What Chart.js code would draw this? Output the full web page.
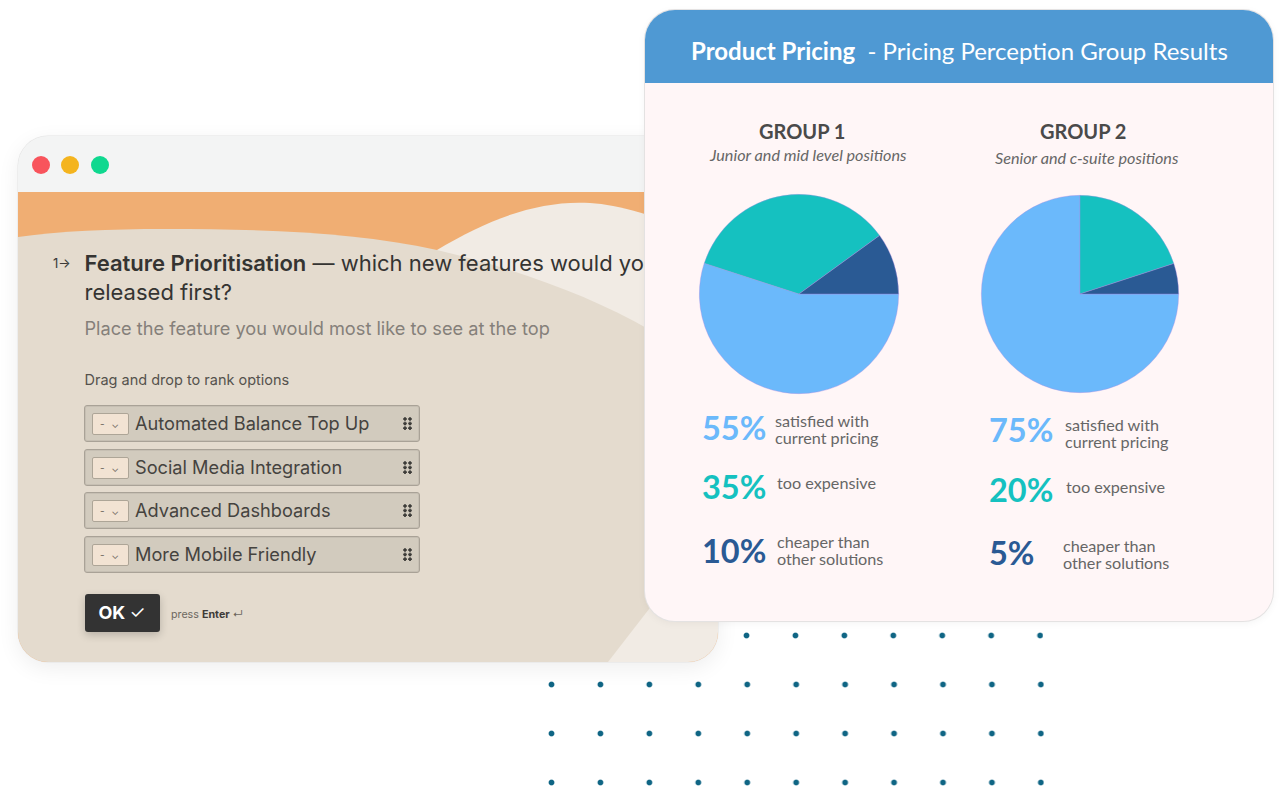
<!DOCTYPE html>
<html>
<head>
<meta charset="utf-8">
<title>Product Pricing</title>
<script src="https://cdn.jsdelivr.net/npm/chart.js@4"></script>
<style>
html, body { margin: 0; padding: 0; background: #fff; }
#page { position: relative; width: 1280px; height: 788px; overflow: hidden; background: #fff; }
.abs { position: absolute; white-space: nowrap; }
/* dot pattern behind the cards */
#dotsTop, #dotsMain { position: absolute; background-image: radial-gradient(circle at 3.5px 3.5px, #0f6584 2.4px, rgba(15,101,132,.25) 3.1px, transparent 3.6px); background-size: 48.95px 49px; }
#dotsTop { left: 743px; top: 632px; width: 300px; height: 8px; }
#dotsMain { left: 547.5px; top: 681px; width: 496px; height: 107px; }
/* left window */
#win { position: absolute; left: 18px; top: 136px; width: 700px; height: 526px; border-radius: 30px; overflow: hidden; background: #f3f4f4; box-shadow: 0 0 0 .5px #e3e3e3, 0 6px 22px rgba(0,0,0,.07); font-family: Inter, sans-serif; color: #3b3a38; }
#win svg { position: absolute; left: 0; top: 0; }
.light { position: absolute; top: 20px; width: 18px; height: 18px; border-radius: 50%; }
.item { position: absolute; left: 66px; width: 334px; height: 35px; background: #d2cbbe; border: 1px solid #a9a297; border-radius: 3px; box-shadow: inset 0 0 0 1px #c6bfb3; font-size: 18.2px; line-height: 35px; color: #45433f; }
.item .sel { position: absolute; left: 7px; top: 7px; width: 35px; height: 20px; background: #f2e3d3; border: 1px solid #ada597; border-radius: 2px; font-size: 10px; line-height: 20px; text-align: center; color: #6d675e; letter-spacing: 2px; }
.item .txt { position: absolute; left: 50px; top: 0; }
.item .grip { position: absolute; right: 7px; top: 11px; width: 9px; height: 13px; background-image: radial-gradient(circle at 2px 2px, #3d3c39 1.5px, transparent 1.9px); background-size: 5px 4.6px; }
#ok { position: absolute; left: 66.5px; top: 458px; width: 75px; height: 38px; background: #333; border-radius: 3px; box-shadow: 0 3px 8px rgba(0,0,0,.2); color: #fff; font-size: 18px; font-weight: 700; line-height: 38px; text-indent: 14px; }
#ok span { font-weight: 400; }
/* pricing card */
#card { position: absolute; left: 645px; top: 10px; width: 628px; height: 611px; border-radius: 30px; overflow: hidden; background: #fff6f7; box-shadow: 0 0 0 1px #e4e2e2, 0 2px 8px rgba(0,0,0,.05); }
#head { position: absolute; left: 0; top: 0; width: 100%; height: 73px; background: #4f99d3; }
#pageText, #pageText * { font-family: Lato, sans-serif; }
.title { font-size: 24px; line-height: 30px; color: #fff; }
.grp { font-size: 20px; font-weight: 700; color: #4a4a4a; line-height: 24px; }
.sub { font-size: 16.2px; font-style: italic; color: #666; line-height: 18px; }
.pct { font-size: 32.5px; font-weight: 700; line-height: 40px; }
.lab { font-size: 16.2px; line-height: 17px; color: #666; white-space: pre; }
canvas.pie { position: absolute; }
</style>
</head>
<body>
<div id="page">
  <div id="dotsTop"></div>
  <div id="dotsMain"></div>

  <div id="win">
    <svg width="700" height="526" viewBox="18 136 700 526">
      <rect x="18" y="192" width="700" height="470" fill="#f0ae73"/>
      <path d="M437 250 C490 218 540 200 590 203 C620 205 650 214 718 240 L718 662 L437 662 Z" fill="#f1ebe4"/>
      <path d="M18 237 C60 231 110 229 165 229 C270 229 360 233 437 250 C510 267 590 295 650 330 L718 380 L718 520 L608 662 L18 662 Z" fill="#e4dbce"/>
    </svg>
    <div class="light" style="left:14px;background:#f8545c"></div>
    <div class="light" style="left:43px;background:#f4b41e"></div>
    <div class="light" style="left:73px;background:#0fd88f"></div>
    <div class="abs" style="left:35px;top:118px;font-size:13px;line-height:18px">1&#8594;</div>
    <div class="abs" style="left:66.5px;top:112px;font-size:22px;line-height:30px;color:#353432"><b style="font-weight:600">Feature Prioritisation</b> &#8212; which new features would you</div>
    <div class="abs" style="left:66.5px;top:141px;font-size:22px;line-height:30px;color:#353432">released first?</div>
    <div class="abs" style="left:66.5px;top:181px;font-size:18.2px;line-height:22px;color:#85807a">Place the feature you would most like to see at the top</div>
    <div class="abs" style="left:66.5px;top:234px;font-size:14.5px;line-height:20px;color:#55524d">Drag and drop to rank options</div>
    <div id="items"></div>
    <div id="ok">OK <span>&#10003;</span></div>
    <div class="abs" style="left:153px;top:470px;font-size:10.7px;line-height:18px;color:#6c675f">press <b style="color:#3e3c39">Enter</b> &#8629;</div>
  </div>

  <div id="card"><div id="head"></div></div>
  <canvas class="pie" id="pie1" width="202" height="202" style="left:698px;top:193px"></canvas>
  <canvas class="pie" id="pie2" width="200" height="200" style="left:979.5px;top:194px"></canvas>
  <div id="pageText"></div>
</div>

<script>
// pie data
const categories = ['satisfied with\ncurrent pricing', 'too expensive', 'cheaper than\nother solutions'];
const group1Values = [55, 35, 10];
const group2Values = [75, 20, 5];
const sliceColors = ['#6bb9fb', '#15c1c0', '#2a5a94'];
const rankOptions = ['Automated Balance Top Up', 'Social Media Integration', 'Advanced Dashboards', 'More Mobile Friendly'];

function addText(cls, left, top, html, color) {
    const el = document.createElement('div');
    el.className = 'abs ' + cls;
    el.style.left = left + 'px';
    el.style.top = top + 'px';
    if (color) el.style.color = color;
    el.innerHTML = html;
    document.getElementById('pageText').appendChild(el);
}

// rank list in the left window
const itemTops = [269, 313, 356, 400];
rankOptions.forEach((name, i) => {
    const el = document.createElement('div');
    el.className = 'item';
    el.style.top = itemTops[i] + 'px';
    el.innerHTML = '<div class="sel">- &#8964;</div><div class="txt">' + name + '</div><div class="grip"></div>';
    document.getElementById('items').appendChild(el);
});

// card headings
addText('title', 691, 36, '<b>Product Pricing</b>&nbsp; - Pricing Perception Group Results');
addText('grp', 759, 119, 'GROUP 1');
addText('sub', 710, 146, 'Junior and mid level positions');
addText('grp', 1040, 119, 'GROUP 2');
addText('sub', 995, 149, 'Senior and c-suite positions');

// left and right key under each pie
const pctTops1 = [408, 467, 531];
const labTops1 = [412, 474, 533];
const labLefts1 = [775, 777, 777];
const pctTops2 = [410, 470, 533];
const labTops2 = [416, 478, 537];
const labLefts2 = [1065, 1066, 1063];
categories.forEach((cat, i) => {
    addText('pct', 702, pctTops1[i], group1Values[i] + '%', sliceColors[i]);
    addText('lab', labLefts1[i], labTops1[i], cat);
    addText('pct', 989, pctTops2[i], group2Values[i] + '%', sliceColors[i]);
    addText('lab', labLefts2[i], labTops2[i], cat);
});

function drawPie(id, values) {
    new Chart(document.getElementById(id), {
        type: 'pie',
        data: {
            labels: categories,
            datasets: [{
                data: values,
                backgroundColor: sliceColors,
                borderColor: 'rgba(170,140,225,.55)',
                borderWidth: 0.7,
            }],
        },
        options: {
            responsive: false,
            animation: false,
            rotation: 90,
            layout: { padding: 1 },
            plugins: { legend: { display: false }, tooltip: { enabled: false } },
        },
    });
}
drawPie('pie1', group1Values);
drawPie('pie2', group2Values);
</script>
</body>
</html>
